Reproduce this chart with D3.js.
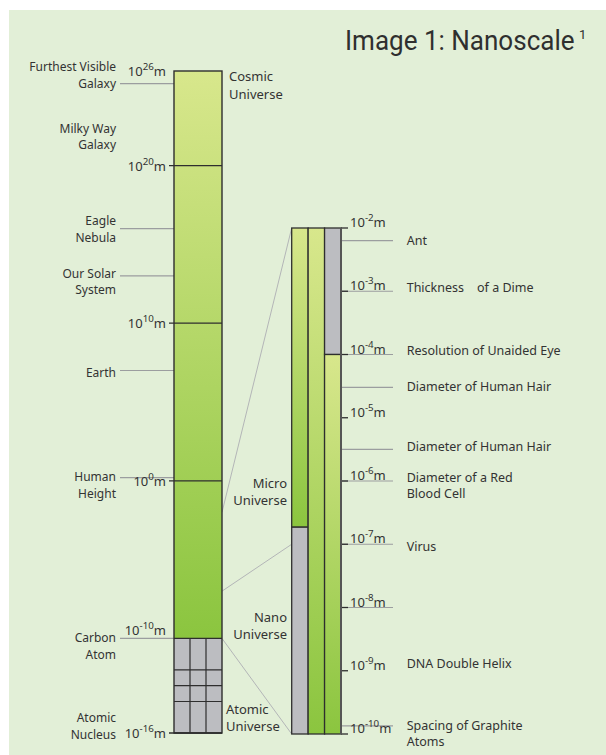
<!DOCTYPE html>
<html>
<head>
<meta charset="utf-8">
<script src="https://cdn.jsdelivr.net/npm/d3@7"></script>
<style>
body { margin: 0; background: #fff; }
svg { display: block; font-family: "Noto Sans", sans-serif; }
</style>
</head>
<body>
<div id="chart"></div>
<script>
// all values are powers of ten (metres)
const leftTicks = [26, 20, 10, 0, -10, -16]
const rightTicks = [-2, -3, -4, -5, -6, -7, -8, -9, -10]
const atomicRows = [-10, -12, -13, -14, -16]

const leftNames = [["Furthest Visible", "Galaxy"], ["Milky Way", "Galaxy"], ["Eagle", "Nebula"], ["Our Solar", "System"],
                   ["Earth"], ["Human", "Height"], ["Carbon", "Atom"], ["Atomic", "Nucleus"]]
const leftSizes = [25.2, null, 16, 13, 7, 0.2, -10, null]
const leftTextAt = [26.27, 22.36, 16.5, 13.16, 6.86, 0.26, -9.98, -15.03]

const rightNames = [["Ant"], ["Thickness\u00a0\u00a0\u00a0\u00a0of a Dime"], ["Resolution of Unaided Eye"], ["Diameter of Human Hair"],
                    ["Diameter of Human Hair"], ["Diameter of a Red", "Blood Cell"], ["Virus"], [], ["DNA Double Helix"],
                    ["Spacing of Graphite", "Atoms"]]
const rightSizes = [-2.2, -3, -4, -4.52, -5.5, -6, -7, -8, null, -9.87]
const rightTextAt = [-2.2, -2.94, -3.94, -4.51, -5.45, -5.94, -7.03, null, -8.88, -9.86]

// zoomed columns: column index, from, to, kind
const rightSegments = [
  {col: 0, from: -2, to: -6.73, kind: "green"},
  {col: 0, from: -6.73, to: -10, kind: "gray"},
  {col: 1, from: -2, to: -10, kind: "green"},
  {col: 2, from: -2, to: -4, kind: "gray"},
  {col: 2, from: -4, to: -10, kind: "green"}
]
const zoomLinks = [[-2, -2], [-7, -7], [-10, -10]]

const universeNames = [["Cosmic", "Universe"], ["Micro", "Universe"], ["Nano", "Universe"], ["Atomic", "Universe"]]
const universeAt = [25.64, -0.16, -8.66, -14.5]

const W = 606, H = 755
const ink = "#333", border = "#2e2e2e", leader = "#9b9d9f", linkC = "#b3b5b7"

const svg = d3.select("#chart").append("svg").attr("width", W).attr("height", H)

const defs = svg.append("defs")
const grad = defs.append("linearGradient").attr("id", "green").attr("x1", 0).attr("y1", 0).attr("x2", 0).attr("y2", 1)
grad.append("stop").attr("offset", 0).attr("stop-color", "#d8e78c")
grad.append("stop").attr("offset", 1).attr("stop-color", "#8bc53f")

svg.append("rect").attr("x", 9).attr("y", 10).attr("width", W - 9).attr("height", H - 10).attr("fill", "#e2efd7")

const yL = d3.scaleLinear().domain([26, -16]).range([71, 733]),
      yR = d3.scaleLinear().domain([-2, -10]).range([228, 734]),
      xL = d3.scaleBand().domain([0, 1, 2]).range([174, 222]),
      xR = d3.scaleBand().domain([0, 1, 2]).range([291.7, 341])

const lx0 = xL.range()[0], lx1 = xL.range()[1], rx0 = xR.range()[0], rx1 = xR.range()[1]

// connectors
svg.append("g").selectAll("line").data(zoomLinks).join("line")
    .attr("x1", lx1).attr("y1", d => yL(d[0]))
    .attr("x2", rx0).attr("y2", d => yR(d[1]))
    .attr("stroke", linkC).attr("stroke-width", 1)

// left column
const left = svg.append("g")
left.append("rect").attr("x", lx0).attr("y", yL(26)).attr("width", lx1 - lx0).attr("height", yL(-10) - yL(26))
    .attr("fill", "url(#green)")
left.append("rect").attr("x", lx0).attr("y", yL(-10)).attr("width", lx1 - lx0).attr("height", yL(-16) - yL(-10))
    .attr("fill", "#bcbdc1")
left.selectAll(".row").data(atomicRows).join("line")
    .attr("x1", lx0).attr("x2", lx1).attr("y1", d => yL(d)).attr("y2", d => yL(d))
    .attr("stroke", border).attr("stroke-width", 1.2)
left.selectAll(".colLine").data([1, 2]).join("line")
    .attr("x1", d => xL(d)).attr("x2", d => xL(d)).attr("y1", yL(-10)).attr("y2", yL(-16))
    .attr("stroke", border).attr("stroke-width", 1.2)

// leader lines left
left.selectAll(".lead").data(leftSizes.filter(d => d != null)).join("line")
    .attr("x1", 120).attr("x2", lx0).attr("y1", d => yL(d)).attr("y2", d => yL(d))
    .attr("stroke", leader).attr("stroke-width", 1.2)

left.append("rect").attr("x", lx0).attr("y", yL(26)).attr("width", lx1 - lx0).attr("height", yL(-16) - yL(26))
    .attr("fill", "none").attr("stroke", border).attr("stroke-width", 1.4)

left.selectAll(".tick").data(leftTicks.filter(d => d != 26 && d != -10)).join("line")
    .attr("x1", lx0 - 5).attr("x2", lx1).attr("y1", d => yL(d)).attr("y2", d => yL(d))
    .attr("stroke", border).attr("stroke-width", 1.3)

function powLabel(sel, size) {
  sel.append("tspan").text("10")
  sel.append("tspan").attr("dy", -6).attr("font-size", size * 0.75).text(d => d)
  sel.append("tspan").attr("dy", 6).text("m")
}

left.selectAll(".tl").data(leftTicks).join("text")
    .attr("x", 166).attr("y", d => yL(d) + (d == -10 ? -3 : 5))
    .attr("text-anchor", "end").attr("font-size", 13).attr("fill", ink)
    .call(powLabel, 13)

function multiText(g, names, at, scale, x, anchor, size, lh) {
  g.selectAll(null).data(names.map((n, i) => ({n, y: at[i]})).filter(d => d.y != null && d.n.length))
    .join("text")
      .attr("x", x).attr("y", d => scale(d.y)).attr("dy", "0.35em")
      .attr("text-anchor", anchor).attr("font-size", size).attr("fill", ink)
    .selectAll("tspan").data(d => d.n).join("tspan")
      .attr("x", x).attr("dy", (d, i) => i ? lh : null)
      .text(d => d)
}

multiText(left, leftNames, leftTextAt, yL, 116, "end", 12, 16.8)

// universe labels
const uni = svg.append("g")
multiText(uni, [universeNames[0]], [universeAt[0]], yL, 229, "start", 13, 17.3)
multiText(uni, universeNames.slice(1, 3), universeAt.slice(1, 3), yL, 287, "end", 13, 17.6)
multiText(uni, [universeNames[3]], [universeAt[3]], yL, 226, "start", 13, 17.4)

// right columns
const right = svg.append("g")
right.selectAll("rect.seg").data(rightSegments).join("rect")
    .attr("x", d => xR(d.col)).attr("width", xR.bandwidth())
    .attr("y", d => yR(d.from)).attr("height", d => yR(d.to) - yR(d.from))
    .attr("fill", d => d.kind == "green" ? "url(#green)" : "#bcbdc1")
    .attr("stroke", border).attr("stroke-width", 1.3)

right.selectAll(".lead").data(rightSizes.filter(d => d != null)).join("line")
    .attr("x1", rx1).attr("x2", 393).attr("y1", d => yR(d)).attr("y2", d => yR(d))
    .attr("stroke", leader).attr("stroke-width", 1.2)

right.selectAll(".tick").data(rightTicks).join("line")
    .attr("x1", rx1).attr("x2", rx1 + 7).attr("y1", d => yR(d)).attr("y2", d => yR(d))
    .attr("stroke", border).attr("stroke-width", 1.3)

right.append("line").attr("x1", rx1).attr("x2", rx1).attr("y1", yR(-2)).attr("y2", yR(-10))
    .attr("stroke", "#555").attr("stroke-width", 2)

right.selectAll(".tl").data(rightTicks).join("text")
    .attr("x", 350).attr("y", d => yR(d) - 1)
    .attr("font-size", 13).attr("fill", ink)
    .call(powLabel, 13)

multiText(right, rightNames, rightTextAt, yR, 406.7, "start", 12.5, 16.5)

// title (narrowed to look like a condensed face)
svg.append("text").attr("transform", "translate(345,50) scale(0.93,1)").attr("fill", "#2f2f2f")
    .style("font-family", "Roboto, sans-serif").attr("font-size", 28)
    .text("Image 1: Nanoscale")
svg.append("text").attr("x", 579).attr("y", 39).attr("fill", "#2f2f2f")
    .style("font-family", "Roboto, sans-serif").attr("font-size", 13)
    .text("1")
</script>
</body>
</html>
